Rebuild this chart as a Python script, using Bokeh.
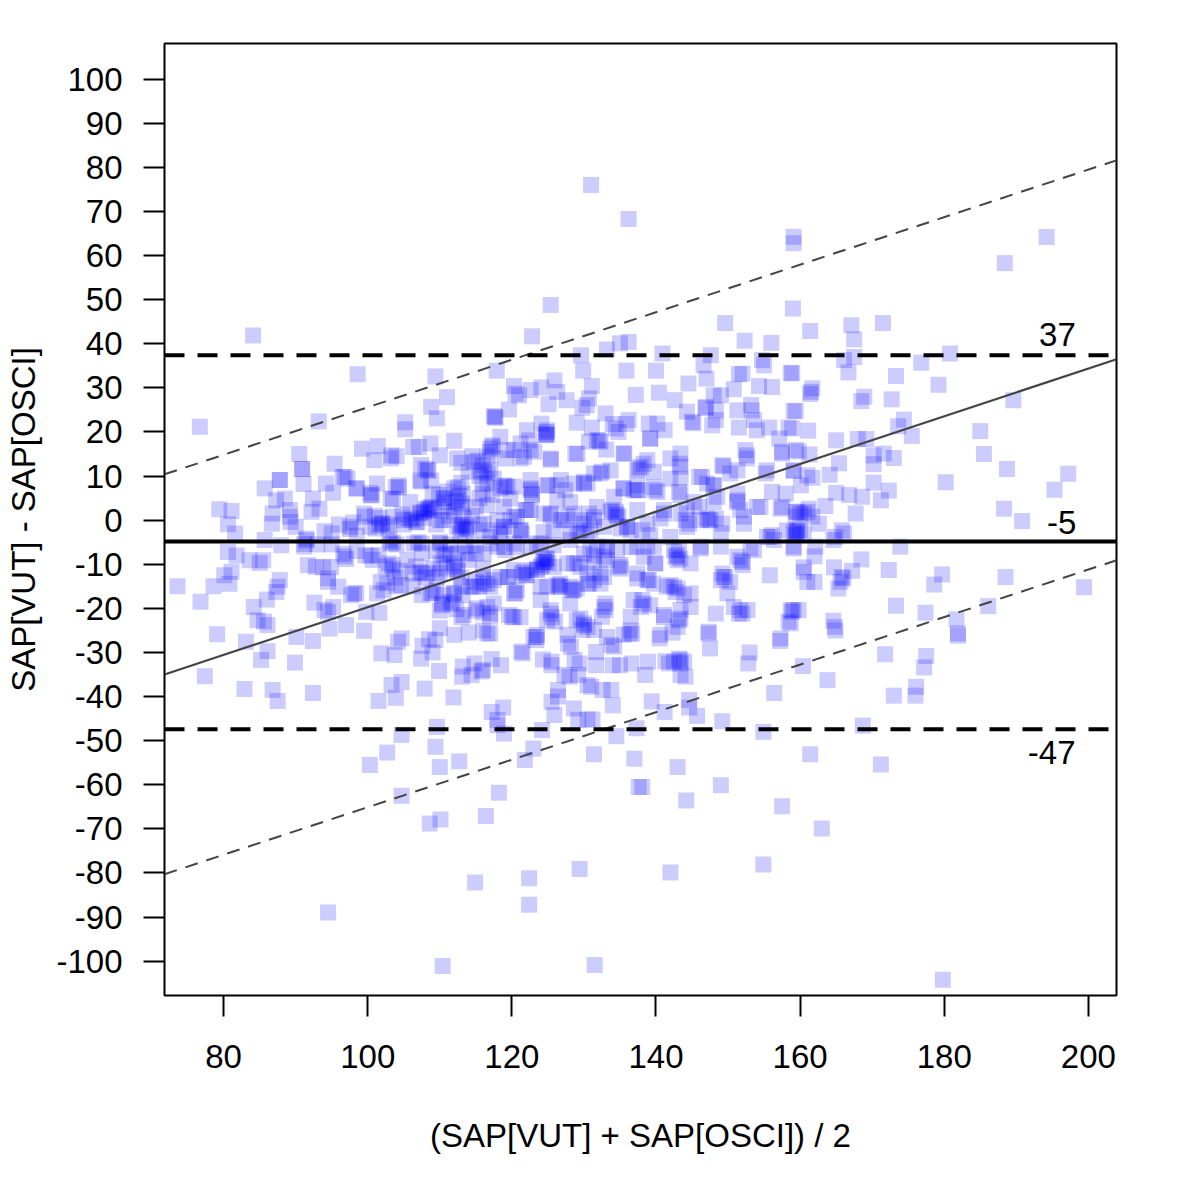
from bokeh.plotting import figure
from bokeh.embed import file_html
from bokeh.resources import INLINE
from bokeh.models import FixedTicker, ColumnDataSource
from bokeh.core.properties import value

# (mean, difference) pairs, by region
left_band = [(84.1,41.9),(76.7,21.2),(98.6,33.1),(109.4,32.6),(111,27.9),(108.8,25.7),(109.6,23.1),(93.2,22.4),(105.2,22.2),(105.2,20.6),
(90.5,15),(90.9,11.6),(90.9,11.6),(91.1,8.2),(99.2,16.2),(101.4,16.8),(100.9,13.6),(103.3,14.7),(104,14.5),(106.3,16.6),(108.7,17.4),(112,18),(110,14.7),(107.4,12.5),(108.4,11.3),(107.4,8.8),(108.8,9),
(95.4,12.8),(87.8,9.1),(87.8,9.1),(85.7,7.2),(94.2,8.3),(96.8,9.8),(95.2,6.2),(98.4,7.2),(100.4,6.2),(100.4,5.6),(101.3,8.3),(104.3,7.9),(104.3,7.4),(103.5,4.8),(87.3,4.5),(88.5,4.9),(92.4,4.9),
(79.4,2.5),(81.1,2.1),(80.6,-0.9),(81.6,-3),(86.8,1.5),(89.2,2.3),(89.2,0.8),(89.3,-0.4),(86.7,-0.8),(92.2,1.9),(93.3,2.6),(99.6,0.8),(91.5,-4.2),(91.5,-4.6),(91.2,-6),(91.2,-5.4),(85.7,-4.5),(88,-5.7),
(80.6,-7.2),(81.8,-8),(83.6,-9.1),(85,-9.7),(85.5,-9.1),(96.8,-8.2),(96.6,-7.6),(97,-8.8),(80.1,-12.5),(81.1,-11.7),(80.8,-14.4),(78.6,-15),(73.6,-15),(76.8,-18.5),(87.8,-13.6),(87.5,-15.1),(87.3,-16.3),(86,-18),
(84.2,-19.7),(84.7,-22.7),(86.1,-23.8),(85.6,-23),(79.1,-25.9),(83.1,-27.6),(92.6,-18.7),(94,-20.4),(94.5,-20.8),(95.2,-19.7),(94.5,-13.2),(94.5,-14),(95.9,-15.1),(92.8,-10.6),(93.8,-10.7),(91.7,-10.2),(94.9,-10.6),
(97.7,-17),(98.4,-16.6),(99.8,-20.8),(101.6,-21),(94.7,-24.6),(97,-23.8),(99.5,-25.1),(90.1,-26.5),(92.4,-27.4),(96,-1),(94,-2.5),(95,-3),(97.5,-2),(98.5,-3.5),(93,-5.5),(95,-5.5),(90,-1.5),(98,-0.5)]

dense_left = [(101,1),(101.6,0.5),(102,-0.7),(100.3,-1.5),(103,-1),(103.5,0.8),(105,-1),(104.8,1.3),(106,0.5),(106.7,-0.5),(107.3,1.7),(108,2.5),(108.4,2.8),(108.8,3),(109.2,2.2),(107.8,0.5),(109.5,-1),(110.5,0),(110.5,5),(110.7,4),(111,3),(111.3,1),(112,2),(112.5,4.5),(112.7,5.5),(113,3),(113.3,0.5),(113.2,-1),(113.7,-1.5),(112.8,-3),(114,-2),(114.5,1),(115,3),(115.5,5),(115.5,-1),(116,6),
(112.5,7.5),(113,8.5),(113.2,6),(111,6.5),(109,6),(114.5,14.5),(115.3,13.5),(116,12.5),(114,11),(113,13),(116.2,11),(115.5,10),
(103.5,-5),(104,-5.5),(103,-4.5),(107,-5),(107.5,-5.3),(110,-5),(111.5,-5.5),(113.5,-6),(98.5,-7),(99.7,-8),(100.7,-9),(101.5,-8),(102.5,-10.5),(103.5,-11),(104.5,-11.5),(103.8,-13),(105.5,-9),(106.7,-10.5),(107.5,-12),(108,-13),(109,-11),(110,-12),(111,-11),(112,-10.5),(112.5,-11.5),(113,-13),(114,-9),(115,-7.5),(109.5,-7),(110.5,-8),(111.5,-7.7),(112.5,-7.5),(107.5,-7.5),(116,-11),(115,-14),(115.5,-15),(116,-13),(113,-15),(109.5,-16),(110.5,-17),(111.5,-18.5),(110.3,-19.3),(110,-20.5),(109,-16.5),(107.5,-17),(106.3,-15),(104,-15),(101.8,-14),(102.7,-14.3),(112,-16.5),(113.2,-17),(112.3,-20.2),(111.8,-19),(116,-21),(115,-20.5),(113,-22),(112,-26),(110,-24.5),(108.5,-27),(116,-25),(114,-25.5)]

center_band = [(122.8,41.7),(149.6,44.7),(152.3,40.7),(156,40.2),(136.2,40.4),(135,40.1),(133.2,38.7),(129.6,37.4),(140.9,37.8),(147.6,37.4),(146.6,35.1),(129.9,33.9),(117.9,33.9),(135.9,33.9),(140,33.9),(147,32.1),(151.5,33.1),(152,33.2),(154.7,36.3),(155,35.1),(158.7,33.4),(144.5,31),(131.1,30.4),(154.3,30.4),(156.1,30.2),(150.8,29.7),(120.3,30.4),(120.5,28.7),(121,28.3),(122.6,29.5),(124.1,30.1),(125.9,31.7),(126.3,29.1),(127.6,27.2),(125.1,26.3),(137.2,28.4),(140.4,28.9),(142.6,27.2),(130.7,27.6),(130.4,26.1),(129.8,25.5),(148,28.3),(149,28.3),(146.9,25.7),(146.9,25.4),(148.3,24.9),(148.3,22.7),(151.3,24.9),(153.2,26.1),(153.3,24.9),(159.1,24.8),(117.7,23.4),(117.7,23.2),(117.5,23.6),(119.6,25.1),(144.3,24.6),(145,22.3),(145.2,22),(147.8,21.5),(151.5,21),(154,20.4),(153.6,22.7),(155.7,21),(158.4,21),(157.1,18.5),(157.5,15.5),(157.5,15.1),(159.4,15.9),
(133,24.2),(129,22.1),(131.1,21),(134,21.8),(134.4,20.8),(134.8,20),(135.9,21.8),(136.2,22.7),(139,21.9),(140.2,21.9),(141.2,20.4),(139.2,18.5),(131.8,18.1),(132.3,17.8),(133.1,16),(130.7,17.8),(135.6,15.1),(128.8,15.1),(129.1,15),(125.4,13.7),(124.8,20),(124.7,19.3),(124.9,20.4),(124.1,21.9),(122.1,20.4),(118.4,18.9),(117.3,16.6),(117,15.5),(116.6,14.4),(121.2,17.4),(122.4,18.1),(120.3,15.9),(119.1,14),(121.7,14.4),(122.6,15.9),
(117,11.7),(116.6,10.6),(115.9,8.3),(117.5,9.4),(119.1,7.7),(118.4,7.2),(122.6,9.1),(122.6,6.8),(122.8,5.7),(125.1,7.9),(126.8,9.1),(127.4,6.8),(130,8.3),(130.5,8.3),(132.3,10.6),(133.7,11.3),(135.5,7.2),(137.4,6.8),(138.3,12.8),(137.9,12.1),(137.4,11.3),(138.8,13.6),(139.7,11),(139.9,6.8),(140.2,6.4),(139.7,7.5),(143.3,12.8),(143.4,12.1),(143.4,15.1),(142,9.4),(143.4,9.4),(146,9.8),(149.2,12.5),(149.4,12.2),(152.6,14.7),(152.6,14),(152.4,15.9),(151.3,11.3),(159.1,11.3),(155.4,11.3),(156.1,6.4),(158,6),(154.5,3),(157.3,2.6),(159.6,1.9),(159.4,0.8),(151.3,6),(151.3,4.5),(151.7,2.3),(152.2,0.8),(152.2,-0.8),(148,7.9),(148.5,5.3),(147.1,0.4),(143.4,5.7),(144.3,2.3),(144.1,0),(144.3,-1.5),(144.6,-0.8),(146.2,0),(147.6,0),(149.2,-0.8),(141.1,1.5),(140.6,0.4),(138.8,-0.8),(136,-1.5),(135.1,-1.9),(134.6,1.1),(134.4,1.9),(133.9,2.3)]

center_lower = [(131.8,3),(131.4,0),(130.4,-3),(129.5,0),(128.6,1.5),(127.7,0.8),(126.8,0),(125.4,1.5),(125.8,-2.3),(128.1,-3),(118,0),(118.9,-1.5),(118.4,-3),(119.8,0),(120.3,0.8),(121.2,-2.3),(121.4,-3),(122.6,2.3),(117,-3.8),(116.1,-2.3),
(118,-6),(119.1,-6.8),(120.3,-5.3),(122.6,-6),(123.5,-5.3),(130.9,-6.8),(131.8,-6),(133.2,-6),(134.6,-6.8),(137.4,-6),(138.8,-6),(139.7,-6),(142.5,-6.8),(142.7,-8.3),(143,-9.1),(143.4,-8.7),(146.2,-6),(149,-6),(153.6,-6.8),(159.1,-2.7),(159.4,-3),(159.6,-2.3),(155.9,-3.8),(156.4,-4.5),(159.1,-6),
(124.7,-9.5),(124.4,-9.1),(124,-10.6),(123.5,-11),(122.1,-12.5),(121.7,-11.7),(122.6,-11.3),(124.9,-8.7),(128.6,-15.9),(128.1,-15.1),(129,-15.5),(126.7,-14.4),(126.5,-15.1),(130.5,-14.4),(131.4,-13.6),(132.8,-12.9),(132.3,-14.4),(135.1,-11),(134.8,-10.6),(133.2,-9.1),(131.4,-9.8),(129.5,-10.6),(127.7,-9.8),(120.7,-15.9),(120.3,-16.6),(118.4,-12.9),(117,-15.1),(116.6,-14.4),(119.6,-12.9),(124,-15.1),(124.9,-15.1),(137.4,-13.2),(139,-13.6),(139.9,-9.8),(141.5,-15.1),(142.5,-15.1),(143,-15.5),(143.9,-17),(142.7,-16.3),(149.2,-12.1),(149.4,-12.9),(149,-13.6),(150.3,-14),(149.9,-16.6),(151.7,-9.1),(152,-10.2),(151.3,-8.3),(155.8,-12.5),(151.7,-20.4),(152,-21.2),(150.8,-19.7),(152.7,-20.4),(148.3,-21.2),(136.9,-18.1),(138.3,-18.9),(139.2,-19.3),(137.9,-19.7),(141.1,-22),(143.4,-22.3),(143.4,-20.4),(144.8,-19.7),(143,-24.2),(132.8,-19.7),(133,-20.4),(132.5,-21.9),(125.4,-20.4),(125.6,-22),(124.9,-22.7),(126,-23),(120.3,-22),(119.6,-21.5),(121.2,-22),(116.6,-19.7),(117,-21.2),(130,-23.8),(130.5,-24.2),(129,-22.7),(131.4,-24.9),(129.8,-24.9),(117,-25.7),(116.6,-25.7),(123.5,-26),(123,-26.5),(136.5,-25),(136.7,-25.7),(135.5,-26),(147.3,-25.3),(140.6,-26),(158.4,-23),(159.1,-20.4),(157.3,-26.8),(127.7,-26),(133.2,-26.5)]

dense_extra_left = [(103.2,14),(108.3,11.3),(108,11.7),(107.3,9),(103.9,7.5),(100.6,5.7),(108.3,2.3),(107.8,1.9),(108.7,2.6),(107.3,1.5),(110.6,4.9),(112,7.2),(112.2,4.1),(113.1,3.8),(109.9,5.7),(113.1,-1.9),(112.9,-1.1),(113.6,-2.3),(112.4,-1.5),(101.6,-1.1),(102,-0.8),(101.1,-1.9),(102.7,-1.5),(106.2,0),(105.7,0.4),(106.9,-0.4),(105,0),(110.1,0),(116.6,8.3),(115.7,11.3),(117,16.2),(117.3,17),(124.9,19.3),(124.7,19.6),(122.6,7.2),(122.8,6),(118.4,-2.3),(118.9,-1.5),(121.2,-2.3),(120.7,0.7),(121.9,2.3),(125.4,1.1),(127.2,0),(124.4,-9.5),(124.7,-8.7),(124.2,-10.2),(125.1,-9.8),(121.9,-12.5),(121.4,-12.1),(123.5,-11.3),(125.8,-10.6),(126.3,-14.7),(126.8,-15.1),(120.5,-16.6),(110.3,-18.9),(115.2,-20),(120,-21.9),(125.4,-21.2),(100.4,-8),(103.4,-10.2),(102.9,-9.8),(106.2,-12.1),(107.3,-11.7),(108.3,-12.1),(109.6,-12.9),(112.4,-11.3),(110.8,-7.6),(113.8,-7.6),(116.1,-7.6),(118.9,-6.1),(120.7,-6.1),(103.2,-5.3),(106.4,-5.3),(110.1,-5.3),(114.7,-5.7),(117,-5.3),(116.1,-14.4),(114.7,-15.1),(117.5,-13.6),(120.3,-11.3),(98.1,-16.6),(101.3,-16.6),(108.7,-16.6),(124,-5.3),(125.8,-5.7),(128.1,-4.5),(124.9,7.9),(126.3,7.9),(128.6,8.3),(124.4,1.5),(119.4,7.5),(117.3,5.7),(118.9,3),(96.5,9.8),(97.2,9.4)]

dense_extra_right = [(137.6,11.7),(134.4,1.5),(134.8,0.7),(133.7,1.9),(130,8.7),(132.1,18.1),(131.4,0.7),(130.7,1.5),(130,-0.8),(129.1,-2.3),(130.9,-2.3),(129.5,-3),(132.8,-1.5),(136,-1.5),(136.5,-2.3),(142.9,-7.9),(143.2,-6.8),(146.2,-6.4),(152,-9.5),(149.6,-12.9),(135.1,-10.2),(132.8,-8.3),(131.4,-8),(130,-7.6),(133.2,-6.8),(128.4,-15.9),(130.7,-14.4),(132.3,-12.1),(142,-14.7),(139.7,-14.4),(138.1,-18.1),(133,-18.9),(130,-23.4),(129.5,-22.3),(151.5,-21.2),(141.1,-21.5),(143.2,-22.7),(151.3,4.1),(155.4,-3.8),(156.1,-3.4),(160,1.5),(161,1.9),(147.3,0),(148.3,0.4),(149,-3),(137.4,2.3),(136.9,6.8),(134.2,5.3),(135.5,7.2),(131.4,10.6),(132.5,11),(139.2,-3.4),(138.1,-2.3),(142,-3.8),(143.4,1.5),(148,7.9),(147.1,8.3),(145.3,4.1),(146,3)]

light_fill = [(107.1,16.6),(112.4,14),(114.7,13.2),(118.9,7.9),(120.3,7.6),(119.4,15.9),(121.2,14),(123.1,15.5),(125.4,14),(98.5,7.2),(103.2,4.9),(105.9,4.1),(116.6,3.4),(119.8,4.9),(122.1,2.3),(126.3,4.5),(128.1,4.1),(116.1,-0.8),(124.4,-2.7),(97.6,-1.5),(99.5,1.5),(102.2,-15.9),(104.6,-14.7),(112,-16.6),(117.5,-18.9),(124,-18.1),(128.6,-9.8),(128.1,-18.9),(113.3,-21.5),(117,-21.9),(119.4,-12.9),(110.1,-9.8),(112,-9.8),(114.3,-15.1),
(139.2,18.5),(135.5,15.1),(142,14),(146.4,9.8),(155.2,10.6),(137.6,6.8),(143.2,6.4),(150.3,10.6),(154,3),(157.5,3),(148,4.1),(141.1,2.3),(137.4,7.9),(139.9,-9.8),(137.4,-12.1),(138.8,-13.6),(144.8,-16.6),(136.5,-21.9),(144.8,-9.8),(153.1,-6.4),(160.5,-11.7),(158.7,-20.4),(158.2,-2.3),(138.3,-8.3),(136.5,-6.1),(130.5,-12.1),(129.1,-9.8)]

right_band = [(161.4,42.9),(167.1,44.2),(171.5,44.7),(167.5,41),(167.5,37),(166.1,36.3),(166.7,33.5),(180.8,37.8),(176.8,35.7),(173.3,32.7),(179.2,30.7),(158.9,33.3),(161.7,29.9),(161.5,29.1),(161.4,28.6),(168.9,28),(168.5,27),(172.7,27.4),(189.6,27.2),(159.4,24.7),(174.4,22.8),(173.6,21.3),(175.5,19.1),(158.9,20.8),(161.1,20.3),(165,18.1),(168,18.4),(169.2,18.4),(185,20.2),(185.5,15),(159.8,15.6),(161.3,14.9),(165.4,12.9),(170.2,14.7),(170.2,12.7),(171.6,15.1),(173,14.1),(188.7,11.6),(197.2,10.5),(159.1,11.2),(161,10.2),(161.7,9.6),(160.1,7.9),(164.1,10.3),(180.2,8.6),(170.2,8.5),(172.3,6.7),(171.2,4.5),(195.3,6.9),(165,6.2),(166.8,5.7),(168.6,5.3),(188.3,2.6),(190.8,-0.2),(163.5,3.2),(161.2,2.6),(160.5,1.5),(159.4,1.9),(161.7,0.8),(162.6,-0.8),(167.7,1.5),(165.8,-2.3),(166.1,-3),(164.6,-4.5),(164.9,-3.8),(159.6,-2.6),(160,-2.3),(159.4,-3.4),(160.5,-3),(173.9,-6),(159.1,-6.4),(162.1,-6),(162,-8.2),(168.5,-8.9),(160.5,-10.7),(164.7,-10.7),(167.2,-11.5),(172.3,-11.3),(179.7,-12.3),(178.6,-14.6),(188.5,-12.9),(199.4,-15.2),(161,-14),(162,-14),(165.8,-12.9),(166,-13.2),(165.6,-14),(165.3,-15.5),(173.3,-19.4),(177.4,-21),(186.1,-19.5),(181.7,-22.5),(181.9,-25.7),(159.8,-20.4),(158.9,-20.8),(158.7,-23.4),(164.6,-22.8),(164.8,-24.2)]

lower_left = [(86.1,-29.7),(85.2,-31.7),(89.9,-32.3),(77.4,-35.4),(82.9,-38.3),(86.8,-38.5),(87.5,-41),(92.4,-39.2),(104.7,-26.8),(104.2,-27.6),(101.9,-30.2),(103.7,-30.6),(107.6,-28.5),(109.4,-27.2),(109,-30),(107.4,-31.4),(109.9,-34.2),(103.3,-37.4),(104.7,-36.7),(103.9,-40.3),(101.5,-41),(107.9,-38.2),(111.9,-40.2),(113.2,-33.2),(113.1,-35.5),(114.4,-35.1),(114.8,-32.5),(116,-34),(115.8,-34.3),(117.2,-31.5),(118.5,-32.9),(121.5,-30.2),(121.3,-29.8),(123.4,-27.2),(123.4,-26.5),(124.3,-31.6),(125.5,-32.1),(125.5,-32.9),(127.3,-35.1),(128,-35.5),(129.2,-35.1),(126.4,-38.5),(126.4,-40),(125.5,-41.2),(128.6,-42.7),(130.5,-37.4),(131,-37.8),(132.6,-38.5),(133.8,-38.5),(134,-42),(125.9,-44.2),(129.2,-45.3),(130.5,-45.2),(131.2,-45.2),(128.7,-31.7),(129.4,-32.5),(131.7,-32.9),(134,-32.9),(135,-32.9),(136.6,-32.5),(133.8,-28.3),(134.2,-28.7),(127.8,-28),(128.2,-28.7),(131.7,-29.9),(136.3,-25.8),
(117.2,-43.5),(118.8,-42.5),(118,-45.3),(118,-46.5),(118.9,-48.4),(109.6,-46.9),(109.4,-51.4),(104.7,-48.7),(102.7,-52.7),(100.3,-55.5),(112.7,-54.7),(110,-56),(124.2,-47.6),(123,-51.8),(121.8,-54.4),(118.2,-61.8),(104.7,-62.5),(110.1,-67.9),(108.6,-68.8),(116.4,-67.1),(129.4,-79.1),(122.4,-81.2),(114.9,-82.2),(122.4,-87.2),(94.5,-89),(110.4,-101.1),(131.5,-100.9),(131.4,-53.1),(134.5,-49),(137.3,-47.2),(137,-54.1),(137.6,-60.5)]

lower_right = [(140.5,-26.8),(142.3,-25.5),(147.3,-25.7),(147.5,-29.1),(153,-30),(152.8,-32.5),(157.2,-27.4),(164.9,-25),(181.9,-26.2),(171.8,-30.4),(177.5,-30.8),(177.2,-33.4),(138.9,-32.1),(138.5,-35.1),(141.3,-32),(141.8,-32.5),(142.5,-32.1),(143.2,-31.4),(143.4,-31.7),(143.9,-32.1),(143.4,-35.1),(144.1,-35.5),(143.4,-32.5),(160.4,-33.1),(163.8,-36.3),(156.4,-39.2),(173,-39.8),(176.1,-37.8),(176,-39.8),(139.4,-41.1),(144.6,-40.8),(144.6,-42.5),(141.2,-43.5),(145.7,-44.4),(149.2,-45.6),(154.9,-48),(168.7,-46.6),(161.4,-53.1),(171.2,-55.4),(143,-56),(138.1,-60.5),(149,-60.1),(144.2,-63.6),(157.5,-64.9),(163,-69.9),(142,-79.9),(154.9,-78.1),(179.8,-104.2)]

top_outliers = [(131,76),(136.2,68.3),(159.1,64.3),(159.1,62.8),(194.2,64.2),(188.4,58.3),(125.4,48.8),(159,48)]

x_ticks = [80, 100, 120, 140, 160, 180, 200]
y_ticks = [-100, -90, -80, -70, -60, -50, -40, -30, -20, -10, 0, 10, 20, 30, 40, 50, 60, 70, 80, 90, 100]
line_x = [71.8, 203.9]
mean_diff = [-4.85, -4.85]
upper_limit = [37.4, 37.4]
lower_limit = [-47.4, -47.4]
fit_line = [-35.0, 36.5]
fit_upper = [10.4, 81.6]
fit_lower = [-80.3, -9.1]
note_text = ["37", "-5", "-47"]
note_x = [195.7, 196.3, 194.9]
note_y = [42.0, -0.6, -52.6]

pts = (left_band + dense_left + center_band + center_lower + dense_extra_left + dense_extra_right
       + light_fill + right_band + lower_left + lower_right + top_outliers)
src = ColumnDataSource(dict(x=[a for a, _ in pts], y=[b for _, b in pts]))

FONT = "Liberation Sans"
FS = "33px"
p = figure(width=1184, height=1184, output_backend="svg", toolbar_location=None,
           x_range=(71.8, 203.9), y_range=(-107.8, 108.1),
           min_border_left=164, min_border_right=68, min_border_top=43, min_border_bottom=189)
p.grid.visible = False
p.outline_line_color = "black"
p.outline_line_width = 2
p.background_fill_color = "white"
p.border_fill_color = "white"

p.scatter("x", "y", source=src, marker="square", size=16, fill_color="#0000ff", fill_alpha=0.2, line_color=None)

p.line(line_x, fit_line, line_color="#444444", line_width=2.2)
p.line(line_x, fit_upper, line_color="#444444", line_width=2, line_dash="13 9")
p.line(line_x, fit_lower, line_color="#444444", line_width=2, line_dash="13 9")
p.line(line_x, mean_diff, line_color="black", line_width=4)
p.line(line_x, upper_limit, line_color="black", line_width=4, line_dash="20 13")
p.line(line_x, lower_limit, line_color="black", line_width=4, line_dash="20 13")
p.text(note_x, note_y, text=note_text, text_font=value(FONT), text_font_size=FS,
       text_align="center", text_baseline="middle", text_color="black")

for ax, ticks, label in ((p.xaxis[0], x_ticks, "(SAP[VUT] + SAP[OSCI]) / 2"),
                         (p.yaxis[0], y_ticks, "SAP[VUT] - SAP[OSCI]")):
    ax.ticker = FixedTicker(ticks=ticks)
    ax.major_label_overrides = {t: str(t) for t in ticks}
    ax.axis_line_color = None
    ax.minor_tick_line_color = None
    ax.major_tick_in = 0
    ax.major_tick_out = 21
    ax.major_tick_line_color = "black"
    ax.major_tick_line_width = 2
    ax.major_label_text_font = FONT
    ax.major_label_text_font_size = FS
    ax.major_label_text_color = "black"
    ax.axis_label = label
    ax.axis_label_text_font = FONT
    ax.axis_label_text_font_size = FS
    ax.axis_label_text_font_style = "normal"
    ax.axis_label_text_color = "black"
p.xaxis[0].major_label_standoff = 28
p.xaxis[0].axis_label_standoff = 46
p.yaxis[0].major_label_standoff = 21
p.yaxis[0].axis_label_standoff = 11

open("out.html", "w").write(file_html(p, INLINE))
